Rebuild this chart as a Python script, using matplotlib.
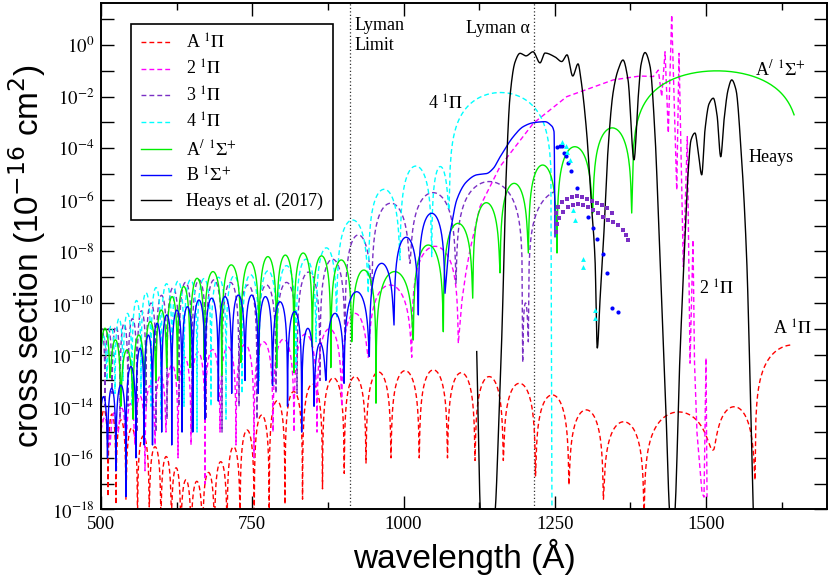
import numpy as np
import matplotlib
matplotlib.use('Agg')
import matplotlib.pyplot as plt
from matplotlib.ticker import MultipleLocator, LogLocator, FuncFormatter, NullLocator

plt.rcParams['mathtext.fontset'] = 'stix'
plt.rcParams['font.family'] = ['Liberation Serif', 'DejaVu Serif']

# ---------------- data (wavelength in Angstrom, log10 of cross section in 1e-16 cm^2) -------------
# A 1Pi : lobes between nodes
A1Pi_node_wl = [498.3, 511.6, 524.8, 541.2, 560.3, 579.7, 599.0, 616.4, 631.9, 648.9,
                667.8, 687.6, 708.3, 729.8, 753.2, 778.0, 804.1, 833.1, 866.1, 902.0,
                938.0, 979.3, 1026.0, 1072.7, 1118.2, 1165.0, 1218.2, 1273.4, 1330.4, 1397.5,
                1512.1, 1581.0, 1707.6]
A1Pi_node_log = [-17.0, -17.5, -17.8, -17.6, -18.3, -17.9, -18.5, -18.1, -18.5, -18.5,
                 -18.5, -18.5, -18.5, -18.3, -18.5, -18.0, -17.8, -17.6, -17.2, -16.6,
                 -16.2, -16.0, -16.0, -16.0, -16.1, -16.1, -16.7, -17.05, -17.6, -18.5,
                 -15.69, -16.86, -16.0]
A1Pi_peak_log = [-14.14, -14.3, -14.53, -14.84, -15.15, -15.57, -15.95, -16.39, -16.86, -16.92,
                 -16.57, -16.15, -15.57, -14.92, -14.34, -13.79, -13.43, -13.14, -12.9, -12.85,
                 -12.67, -12.62, -12.59, -12.7, -12.85, -13.11, -13.56, -14.14, -14.6, -14.22,
                 -14.02, -11.62]
A1Pi_end_wl = 1644.0

# 2 1Pi
P2_node_wl = [498.3, 514.9, 528.1, 541.3, 556.2, 572.7, 589.3, 607.4, 627.3, 648.8,
              671.9, 696.7, 723.1, 752.9, 784.3, 819.0, 857.0, 897.9, 941.8, 1013.6, 1090.6]
P2_node_log = [-15.0, -15.5, -15.0, -16.0, -15.5, -16.5, -15.5, -15.0, -16.0, -15.5,
               -17.0, -15.0, -15.5, -16.0, -15.0, -15.0, -15.0, -14.0, -12.1, -12.1, -11.56]
P2_peak_log = [-14.5, -14.3, -14.1, -13.9, -13.6, -13.2, -12.8, -12.4, -12.1, -11.9,
               -11.8, -11.7, -11.6, -11.5, -11.4, -11.2, -11.0, -10.4, -9.3, -7.8]
P2_tail_wl = [1096.7, 1103.3, 1109.9, 1126.4, 1159.5, 1214.6, 1269.8, 1346.8, 1390.9, 1413.0,
              1421.2, 1426.8, 1432.3, 1437.7, 1443.3, 1451.6, 1455.4, 1462.5, 1469.1, 1473.6,
              1478.5, 1481.0, 1485.1, 1493.4, 1496.7, 1500.0, 1501.7]
P2_tail_log = [-9.88, -8.79, -7.94, -6.26, -4.71, -3.03, -2.0, -1.35, -1.20, -1.22,
               -0.97, -2.0, -0.26, -3.41, 1.17, -5.62, -0.32, -8.59, -3.55, -12.33,
               -7.55, -12.32, -15.03, -17.36, -17.52, -12.13, -17.52]

# 3 1Pi
P3_node_wl = [496.7, 506.6, 518.2, 531.4, 544.6, 559.5, 574.4, 590.9, 609.1, 628.9,
              650.4, 673.5, 700.0, 728.1, 757.8, 789.2, 824.0, 862.0, 903.3, 947.4,
              1010.7, 1086.8, 1197.0, 1206.3, 1324.8]
P3_node_log = [-13.0, -14.0, -13.5, -14.5, -14.0, -15.0, -14.0, -15.0, -14.5, -14.0,
               -15.0, -14.5, -15.0, -14.0, -14.5, -13.5, -13.5, -13.0, -11.5, -9.62,
               -8.46, -9.23, -12.3, -11.5, -8.0]
P3_peak_log = [-11.0, -11.0, -10.9, -10.8, -10.6, -10.3, -10.0, -9.7, -9.4, -9.2,
               -9.1, -9.1, -9.2, -9.3, -9.3, -9.2, -8.8, -8.3, -7.36, -6.13,
               -5.72, -5.29, -10.0, -5.6]
P3_end_wl = 1250.4

# 4 1Pi
P4_node_wl = [498.3, 509.9, 523.1, 536.4, 551.2, 566.1, 582.6, 599.2, 617.4, 637.2,
              658.7, 681.8, 706.6, 733.1, 761.2, 790.9, 822.3, 855.4, 889.6, 941.8,
              994.2, 1046.6, 1075.2, 1245.5]
P4_node_log = [-12.5, -13.0, -13.5, -13.0, -14.0, -13.5, -14.0, -14.5, -13.5, -14.0,
               -15.0, -14.0, -14.5, -13.5, -13.0, -12.5, -12.5, -11.5, -10.53, -9.62,
               -8.33, -8.2, -6.39, -19.0]
P4_peak_log = [-11.3, -10.9, -10.6, -10.4, -9.9, -9.6, -9.4, -9.25, -9.15, -9.1,
               -9.05, -9.0, -8.95, -8.9, -8.75, -8.55, -8.3, -7.86, -6.78, -5.59,
               -4.69, -4.71, -1.84]

# A' 1Sigma+
Ap_node_wl = [498.3, 514.9, 532.7, 552.9, 572.1, 590.6, 608.6, 626.4, 647.1, 670.6,
              699.5, 731.1, 761.3, 790.3, 819.0, 849.3, 879.8, 914.4, 954.5, 1016.2,
              1065.8, 1114.4, 1159.5, 1206.3, 1253.7, 1312.7, 1377.2, 1658.2]
Ap_node_log = [-13.0, -12.9, -14.0, -14.5, -13.2, -13.0, -12.5, -13.0, -12.5, -12.2,
               -12.8, -12.3, -12.0, -12.5, -12.7, -11.7, -12.5, -11.5, -13.88, -11.43,
               -11.11, -9.81, -8.83, -8.06, -8.06, -6.51, -6.51, -6.0]
Ap_peak_log = [-10.98, -11.43, -11.82, -11.24, -10.72, -10.27, -9.75, -9.36, -9.04, -8.78,
               -8.52, -8.4, -8.2, -8.14, -8.06, -8.17, -8.33, -8.72, -8.78, -7.75,
               -6.91, -6.11, -5.36, -4.65, -3.94, -3.21, -1.0]
Ap_end_wl = 1647.0

# B 1Sigma+
B_node_wl = [497.5, 510.7, 524.6, 541.2, 557.7, 571.4, 585.1, 600.3, 616.9, 633.9,
             651.7, 671.9, 693.9, 716.0, 738.0, 760.0, 783.5, 808.3, 831.7, 852.1,
             871.9, 901.7, 943.5, 984.3, 1024.5, 1068.6]
B_node_log = [-15.0, -16.0, -16.5, -17.5, -16.0, -15.5, -15.5, -15.0, -15.5, -15.0,
              -15.0, -14.5, -13.8, -13.5, -13.0, -13.5, -13.2, -14.0, -15.0, -14.0,
              -13.0, -13.11, -12.07, -10.85, -10.46, -9.62]
B_peak_log = [-13.63, -13.3, -13.18, -12.46, -11.75, -11.24, -10.78, -10.46, -10.27, -10.14,
              -9.88, -9.81, -9.75, -9.69, -9.69, -9.75, -9.95, -10.33, -10.98, -11.56,
              -10.4, -9.56, -8.46, -7.45, -6.52]
B_tail_wl = [1076.9, 1088.0, 1104.5, 1121.0, 1137.5, 1148.4, 1159.5, 1181.5, 1198.0, 1214.6,
             1233.9, 1243.3, 1248.8, 1250.4]
B_tail_log = [-7.29, -6.0, -5.29, -5.03, -4.98, -4.78, -4.34, -3.55, -3.16, -3.01,
              -2.97, -3.1, -3.36, -7.43]

# Heays et al. (2017)
H_wl = [1121.0, 1128.1, 1149.6, 1159.5, 1162.8, 1169.4, 1176.0, 1184.3, 1192.6, 1202.5,
        1214.1, 1225.6, 1233.9, 1250.4, 1261.5, 1270.3, 1279.7, 1288.5, 1293.4, 1302.8,
        1310.0, 1316.6, 1320.3, 1324.8, 1329.8, 1338.0, 1346.3, 1354.6, 1362.8, 1371.1,
        1381.0, 1387.6, 1392.5, 1399.2, 1407.4, 1415.7, 1424.0, 1432.3, 1441.4, 1447.1,
        1457.0, 1463.6, 1470.7, 1475.2, 1481.8, 1486.8, 1492.9, 1498.3, 1505.0, 1512.1,
        1518.2, 1524.3, 1529.8, 1536.4, 1542.5, 1549.6, 1557.9, 1567.3, 1572.8, 1578.5]
H_log = [-11.88, -18.4, -18.4, -13.24, -11.04, -5.23, -2.0, -0.66, -0.32, -0.42,
         -0.26, -0.69, -0.31, -0.46, -0.64, -0.38, -1.2, -0.73, -1.35, -3.41,
         -6.0, -8.33, -11.74, -9.88, -7.94, -4.07, -1.86, -0.97, -0.58, -1.35,
         -4.45, -2.13, -0.77, -0.29, -0.81, -3.48, -8.33, -13.17, -18.4, -18.4,
         -12.01, -8.33, -4.84, -3.68, -3.41, -4.07, -5.03, -3.29, -2.28, -2.06,
         -2.71, -4.33, -2.90, -1.74, -1.35, -1.74, -4.07, -8.33, -12.98, -18.4]

# symbols
Bdot_wl = [1253.2, 1257.9, 1262.0, 1265.3, 1268.6, 1272.4, 1276.4, 1286.3, 1305.5, 1313.7,
           1320.4, 1329.3, 1336.9, 1345.1, 1354.1]
Bdot_log = [-3.94, -3.91, -3.90, -4.19, -4.30, -4.58, -4.87, -5.55, -6.67, -7.10,
            -7.53, -8.10, -8.82, -10.18, -10.36]
Ctri_wl = [1262.0, 1268.6, 1270.7, 1275.2, 1280.7, 1283.5, 1296.2, 1297.2, 1316.6, 1317.1]
Ctri_log = [-3.75, -3.90, -4.13, -4.45, -6.39, -6.78, -8.30, -8.61, -10.27, -10.57]
Psq_wl = [1252.2, 1255.4, 1262.0, 1270.3, 1278.6, 1286.8, 1295.1, 1303.4, 1311.6, 1319.9,
          1328.2, 1336.4, 1344.7,
          1252.2, 1253.8, 1257.1, 1263.7, 1272.0, 1280.2, 1288.5, 1296.8, 1305.0, 1313.3,
          1321.5, 1329.8, 1338.1, 1346.3, 1354.6, 1362.8, 1367.8, 1371.1]
Psq_log = [-6.51, -6.27, -6.08, -5.97, -5.89, -5.85, -5.89, -5.97, -6.05, -6.12,
           -6.20, -6.31, -6.51,
           -7.24, -6.93, -6.70, -6.47, -6.27, -6.20, -6.16, -6.20, -6.27, -6.39,
           -6.51, -6.67, -6.78, -6.86, -6.97, -7.16, -7.36, -7.55]

lyman_limit = 911.8
lyman_alpha = 1215.7

labels = ['A $^{1}\\Pi$', '2 $^{1}\\Pi$', '3 $^{1}\\Pi$', '4 $^{1}\\Pi$',
          'A$^{/}$ $^{1}\\Sigma^{+}$', 'B $^{1}\\Sigma^{+}$', 'Heays et al. (2017)']
colors = ['#ff0000', '#ff00ff', '#7a2fc4', '#00ffff', '#00ee00', '#0000ff', '#000000']


def lobe_curve(node_wl, node_log, peak_log, n=90):
    xs, ys = [], []
    for i, p in enumerate(peak_log):
        a, b = node_wl[i], node_wl[i + 1]
        t = np.linspace(0.0, 1.0, n)
        base = (1 - t) * node_log[i] + t * node_log[i + 1]
        s = 10.0 ** p * np.sin(np.pi * t) ** 2 + 10.0 ** base
        if i > 0:
            t, s = t[1:], s[1:]
        xs.append(a + (b - a) * t)
        ys.append(s)
    return np.concatenate(xs), np.concatenate(ys)


def smooth_line(x, y, per=16):
    """monotone cubic (Fritsch-Carlson) rendering through the given points"""
    x = np.asarray(x, float); y = np.asarray(y, float)
    h = np.diff(x); d = np.diff(y) / h
    m = np.zeros_like(y)
    m[0], m[-1] = d[0], d[-1]
    for k in range(1, len(x) - 1):
        if d[k - 1] * d[k] > 0:
            w1 = 2 * h[k] + h[k - 1]; w2 = h[k] + 2 * h[k - 1]
            m[k] = (w1 + w2) / (w1 / d[k - 1] + w2 / d[k])
    xs, ys = [x[0]], [y[0]]
    for k in range(len(x) - 1):
        t = np.linspace(0, 1, per + 1)[1:]
        h00 = 2 * t**3 - 3 * t**2 + 1; h10 = t**3 - 2 * t**2 + t
        h01 = -2 * t**3 + 3 * t**2; h11 = t**3 - t**2
        ys.extend(h00 * y[k] + h10 * h[k] * m[k] + h01 * y[k + 1] + h11 * h[k] * m[k + 1])
        xs.extend(x[k] + t * h[k])
    return np.array(xs), np.array(ys)


def clip(x, y, end):
    m = x <= end
    return x[m], y[m]


fig = plt.figure(figsize=(8.3, 5.81), dpi=100)
ax = fig.add_axes([0.1217, 0.1231, 0.8747, 0.8713])
ax.set_yscale('log')

dash = dict(linestyle=(0, (3.5, 2.2)), lw=1.0)
solid = dict(linestyle='-', lw=1.0)

x, y = lobe_curve(A1Pi_node_wl, A1Pi_node_log, A1Pi_peak_log)
x, y = clip(x, y, A1Pi_end_wl)
ax.plot(x, y, color=colors[0], label=labels[0], **dash)

x, y = lobe_curve(P2_node_wl, P2_node_log, P2_peak_log)
x = np.concatenate([x, P2_tail_wl]); y = np.concatenate([y, 10.0 ** np.array(P2_tail_log)])
ax.plot(x, y, color=colors[1], label=labels[1], **dash)

x, y = lobe_curve(P3_node_wl, P3_node_log, P3_peak_log)
x, y = clip(x, y, P3_end_wl)
ax.plot(x, y, color=colors[2], label=labels[2], **dash)

x, y = lobe_curve(P4_node_wl, P4_node_log, P4_peak_log)
ax.plot(x, y, color=colors[3], label=labels[3], **dash)

x, y = lobe_curve(Ap_node_wl, Ap_node_log, Ap_peak_log)
x, y = clip(x, y, Ap_end_wl)
ax.plot(x, y, color=colors[4], label=labels[4], **solid)

x, y = lobe_curve(B_node_wl, B_node_log, B_peak_log)
tx, ty = smooth_line(B_tail_wl, B_tail_log)
x = np.concatenate([x, tx]); y = np.concatenate([y, 10.0 ** ty])
ax.plot(x, y, color=colors[5], label=labels[5], **solid)

hx, hy = smooth_line(H_wl, H_log)
ax.plot(hx, 10.0 ** hy, color=colors[6], label=labels[6], **solid)

ax.plot(Bdot_wl, 10.0 ** np.array(Bdot_log), 'o', color='#0000ff', ms=3.0, mew=0)
ax.plot(Ctri_wl, 10.0 ** np.array(Ctri_log), '^', color='#00ffff', ms=3.5, mew=0)
ax.plot(Psq_wl, 10.0 ** np.array(Psq_log), 's', color='#7a2fc4', ms=2.8, mew=0)

for wl in (lyman_limit, lyman_alpha):
    ax.axvline(wl, color='#333333', lw=0.9, linestyle=(0, (1, 1.8)), zorder=1)

ax.set_xlim(500, 1700)
ax.set_ylim(1e-18, 10 ** 1.62)

ax.xaxis.set_major_locator(MultipleLocator(250))
ax.xaxis.set_minor_locator(MultipleLocator(125))
ax.yaxis.set_major_locator(LogLocator(base=10, numticks=40))
ax.yaxis.set_minor_locator(NullLocator())


def yfmt(v, pos):
    e = int(round(np.log10(v)))
    return '$10^{%d}$' % e if e % 2 == 0 and e <= 0 else ''


ax.yaxis.set_major_formatter(FuncFormatter(yfmt))
ax.xaxis.set_major_formatter(FuncFormatter(lambda v, p: '%d' % v if v <= 1500 else ''))
ax.tick_params(which='both', direction='in', top=True, right=True, labelsize=13.5, width=1.0)
ax.tick_params(which='major', length=9.5, pad=5)
ax.tick_params(which='minor', length=5)
for s in ax.spines.values():
    s.set_linewidth(1.4)

ax.set_xlabel('wavelength (Å)', fontsize=24, family='Liberation Sans', labelpad=4)
ax.set_ylabel('cross section (10$^{-16}$ cm$^{2}$)', fontsize=24, family='Liberation Sans',
              math_fontfamily='dejavusans', labelpad=2)

leg = ax.legend(loc='upper left', bbox_to_anchor=(0.0409, 0.9597), borderaxespad=0,
                fontsize=13, handlelength=1.7, handletextpad=0.8, labelspacing=0.4,
                fancybox=False, edgecolor='black', framealpha=1, borderpad=0.55)
leg.get_frame().set_linewidth(1.2)

tk = dict(fontsize=13, ha='left', va='baseline')
ax.text(919.8, 10 ** 0.585, 'Lyman', **tk)
ax.text(919.8, 10 ** -0.19, 'Limit', **tk)
ax.text(1209.0, 10 ** 0.47, 'Lyman α', fontsize=13, ha='right', va='baseline')
ax.text(1040.5, 10 ** -2.52, '4 $^{1}\\Pi$', **tk)
ax.text(1581.0, 10 ** -1.16, 'A$^{/}$ $^{1}\\Sigma^{+}$', **tk)
ax.text(1569.5, 10 ** -4.53, 'Heays', **tk)
ax.text(1489.2, 10 ** -9.69, '2 $^{1}\\Pi$', **tk)
ax.text(1610.8, 10 ** -11.24, 'A $^{1}\\Pi$', **tk)

fig.savefig('out.png', dpi=100)
